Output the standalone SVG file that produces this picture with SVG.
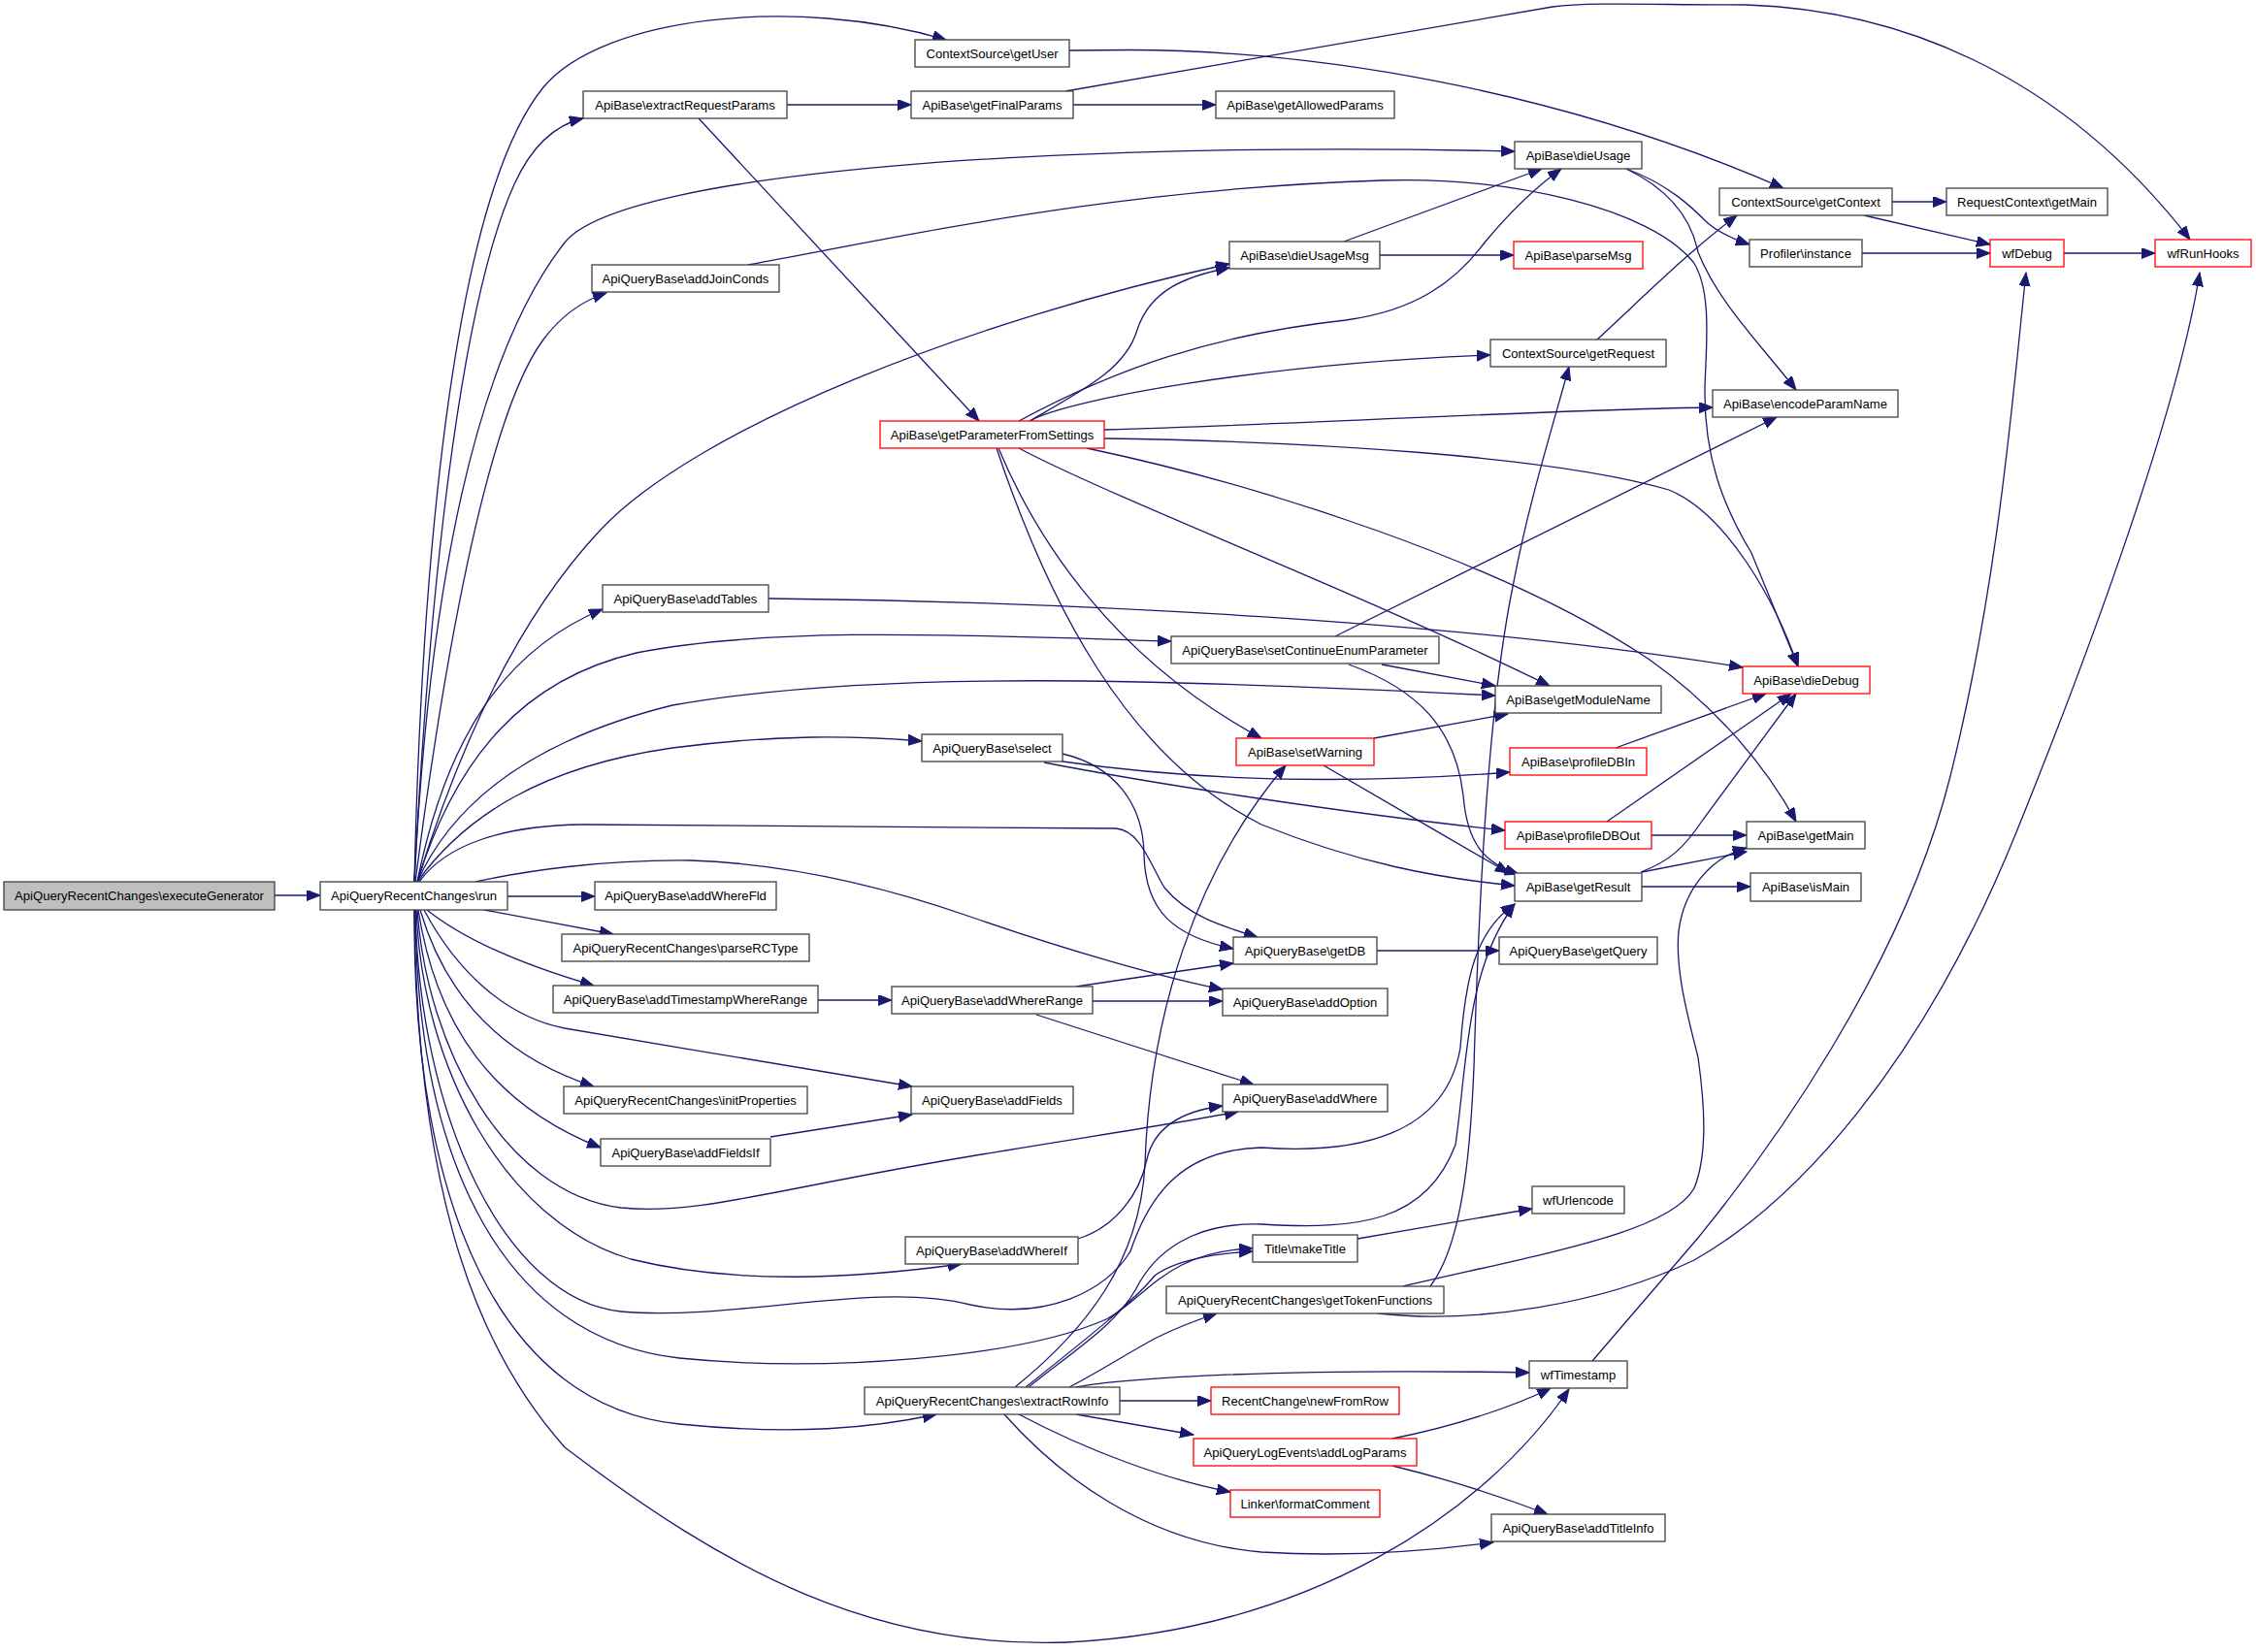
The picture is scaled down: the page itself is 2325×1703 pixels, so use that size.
<svg xmlns="http://www.w3.org/2000/svg" width="2325" height="1703" viewBox="0 0 2325 1703">
<defs>
<style>
.n rect{fill:#fff;stroke:#404040;stroke-width:1.3}
.r rect{fill:#fff;stroke:#ff0000;stroke-width:1.3}
.g rect{fill:#bfbfbf;stroke:#404040;stroke-width:1.3}
text{font-family:"Liberation Sans",Arial,Helvetica,sans-serif;font-size:13.1px;text-anchor:middle;fill:#000}
#edges path{fill:none;stroke:#191970;stroke-width:1.3;marker-end:url(#a)}
</style>
<marker id="a" markerUnits="userSpaceOnUse" markerWidth="15" markerHeight="12" refX="14" refY="5.5" orient="auto"><path d="M0,0 L14,5.5 L0,11 z" fill="#191970" stroke="#191970" stroke-width="1"/></marker>
</defs>
<rect x="0" y="0" width="2325" height="1703" fill="#fff"/>
<g id="edges">
<path d="M283,923 L330,923"/>
<path d="M427,909 C435,560 470,200 560,90 C620,17 820,-5 975,41"/>
<path d="M427,909 C445,560 480,300 530,190 C550,146 575,128 601,122"/>
<path d="M427,909 C440,650 480,380 582,250 C640,176 1100,145 1561,156"/>
<path d="M428,909 C455,700 500,430 560,350 C578,326 600,310 625,302"/>
<path d="M430,909 C470,780 530,640 620,545 C720,440 1000,330 1267,272"/>
<path d="M430,909 C460,760 520,670 621,628"/>
<path d="M430,909 C470,780 540,700 656,673 C800,645 1000,655 1207,661"/>
<path d="M430,909 C470,820 560,760 693,727 C900,690 1200,700 1541,717"/>
<path d="M430,909 C480,840 560,790 693,771 C800,757 880,758 950,764"/>
<path d="M432,909 C460,870 520,851 600,850 L1150,854 C1175,856 1185,890 1200,915 C1225,945 1260,955 1296,966"/>
<path d="M490,909 C540,898 620,886 712,887 C800,890 900,910 1000,945 C1100,980 1200,1008 1260,1020"/>
<path d="M523,924 L613,924"/>
<path d="M499,938 C540,946 590,955 632,963"/>
<path d="M440,938 C480,970 540,995 612,1016"/>
<path d="M437,938 C470,1000 520,1048 582,1060 C700,1080 850,1105 940,1120"/>
<path d="M433,938 C460,1030 520,1090 612,1120"/>
<path d="M431,938 C450,1060 510,1140 619,1183"/>
<path d="M430,938 C440,1080 520,1230 640,1245 C720,1253 800,1225 1000,1192 C1120,1172 1220,1157 1276,1146"/>
<path d="M429,938 C435,1100 520,1260 650,1298 C760,1325 880,1318 991,1303"/>
<path d="M428,938 C432,1150 520,1340 640,1352 C760,1362 900,1320 1000,1345 C1080,1362 1140,1330 1165,1290 C1185,1230 1220,1185 1300,1183 C1400,1190 1490,1170 1505,1080 C1510,1010 1520,960 1561,932"/>
<path d="M428,938 C430,1200 520,1380 700,1400 C850,1415 1050,1400 1140,1360 C1180,1340 1200,1290 1291,1287"/>
<path d="M427,938 C425,1250 520,1450 700,1468 C820,1480 900,1472 965,1458"/>
<path d="M427,938 C430,1250 500,1400 582,1492 C750,1620 900,1700 1100,1693 C1350,1680 1530,1560 1617,1432"/>
<path d="M811,108 L939,108"/>
<path d="M720,122 L1009,434"/>
<path d="M1106,108 L1253,108"/>
<path d="M1098,94 L1600,7 C1640,2 1700,5 1800,5 C1950,10 2120,70 2257,247"/>
<path d="M1102,52 L1164,51.5 C1350,52 1600,90 1838,194"/>
<path d="M1950,208 L2006,208"/>
<path d="M1921,222 L2051,252"/>
<path d="M1919,261 L2051,261"/>
<path d="M2127,261 L2221,261"/>
<path d="M1385,249 L1589,174"/>
<path d="M1422,263 L1560,263"/>
<path d="M1676,174 C1720,190 1745,215 1760,230 C1772,240 1785,246 1803,252"/>
<path d="M1676,174 C1730,200 1745,235 1750,260 C1770,310 1810,350 1851,402"/>
<path d="M771,273 C950,240 1150,195 1424,186 C1560,182 1700,215 1745,270 C1765,300 1758,360 1757,400 C1756,470 1775,520 1805,570 L1853,687"/>
<path d="M1646,350 C1700,300 1740,260 1790,222"/>
<path d="M1061,434 C1120,400 1160,380 1172,340 C1185,300 1220,285 1267,276"/>
<path d="M1050,434 C1150,380 1250,345 1387,330 C1460,320 1500,290 1530,250 C1555,220 1580,195 1609,174"/>
<path d="M1061,434 C1100,412 1300,375 1536,366"/>
<path d="M1138,443 C1400,435 1600,422 1765,420"/>
<path d="M1138,452 C1350,455 1600,470 1720,505 C1780,530 1830,620 1853,687"/>
<path d="M1120,462 C1300,500 1550,580 1700,680 C1770,730 1820,790 1851,847"/>
<path d="M1050,462 C1150,515 1400,610 1597,707"/>
<path d="M1029,462 C1070,560 1150,680 1300,761"/>
<path d="M1027,462 C1080,620 1160,780 1300,850 C1400,890 1480,905 1561,913"/>
<path d="M1376,656 L1831,430"/>
<path d="M1424,685 L1541,707"/>
<path d="M1390,685 C1460,710 1500,750 1508,820 C1512,870 1530,890 1565,901"/>
<path d="M1416,761 L1554,736"/>
<path d="M1364,789 C1420,822 1500,868 1555,900"/>
<path d="M1095,785 C1200,800 1350,812 1556,796"/>
<path d="M1076,786 C1200,810 1400,840 1551,856"/>
<path d="M1095,777 C1150,790 1178,830 1179,880 C1180,940 1210,965 1271,978"/>
<path d="M1109,1017 L1271,993"/>
<path d="M1126,1032 L1260,1032"/>
<path d="M1068,1046 L1292,1118"/>
<path d="M843,1031 L919,1031"/>
<path d="M794,1172 L940,1149"/>
<path d="M1111,1277 C1150,1265 1175,1230 1182,1195 C1190,1160 1220,1145 1260,1140"/>
<path d="M1419,980 L1545,980"/>
<path d="M1692,899 L1800,878"/>
<path d="M1692,914 L1804,914"/>
<path d="M1691,899 C1720,888 1735,875 1755,845 L1851,715"/>
<path d="M1702,861 L1800,861"/>
<path d="M1656,847 L1846,715"/>
<path d="M1665,771 L1820,715"/>
<path d="M792,617 C1100,620 1500,640 1796,688"/>
<path d="M1474,1326 C1505,1285 1515,1200 1519,1100 C1525,900 1535,720 1560,600 C1575,520 1600,440 1617,378"/>
<path d="M1446,1326 C1600,1290 1720,1270 1746,1225 C1760,1190 1757,1140 1750,1090 C1740,1050 1726,1000 1730,960 C1735,920 1760,885 1800,874"/>
<path d="M1420,1354 C1520,1365 1650,1345 1746,1299 C1850,1240 1980,1100 2078,858 C2158,660 2245,420 2267,281"/>
<path d="M1641,1403 L1750,1276 C1820,1190 1960,1000 2010,800 C2060,600 2075,400 2088,281"/>
<path d="M1399,1277 L1579,1246"/>
<path d="M1435,1483 C1500,1470 1560,1450 1598,1431"/>
<path d="M1435,1511 C1480,1522 1540,1540 1595,1561"/>
<path d="M1154,1444 L1248,1444"/>
<path d="M1109,1458 L1230,1479"/>
<path d="M1050,1458 C1120,1495 1200,1525 1268,1538"/>
<path d="M1035,1458 C1090,1520 1180,1590 1300,1600 C1400,1606 1480,1598 1539,1590"/>
<path d="M1109,1430 C1150,1422 1300,1410 1576,1415"/>
<path d="M1102,1430 C1140,1410 1170,1390 1194,1378 C1210,1370 1230,1362 1254,1354"/>
<path d="M1057,1430 C1120,1380 1170,1340 1190,1315 C1210,1300 1250,1292 1291,1290"/>
<path d="M1046,1430 C1120,1370 1175,1300 1180,1200 C1185,1050 1230,900 1325,789"/>
<path d="M1060,1430 C1110,1390 1150,1365 1170,1330 C1190,1290 1230,1260 1300,1262 C1400,1268 1470,1260 1500,1180 C1512,1100 1510,1000 1561,932"/>
</g>
<g id="n1" class="g"><rect x="4" y="909" width="279" height="29"/><text x="143.5" y="928">ApiQueryRecentChanges\executeGenerator</text></g>
<g id="n2" class="n"><rect x="330" y="909" width="193" height="29"/><text x="426.5" y="928">ApiQueryRecentChanges\run</text></g>
<g id="n3" class="n"><rect x="943" y="41" width="159" height="28"/><text x="1022.5" y="60">ContextSource\getUser</text></g>
<g id="n4" class="n"><rect x="601" y="94" width="210" height="28"/><text x="706" y="113">ApiBase\extractRequestParams</text></g>
<g id="n5" class="n"><rect x="939" y="94" width="167" height="28"/><text x="1022.5" y="113">ApiBase\getFinalParams</text></g>
<g id="n6" class="n"><rect x="1253" y="94" width="184" height="28"/><text x="1345" y="113">ApiBase\getAllowedParams</text></g>
<g id="n7" class="n"><rect x="1561" y="146" width="131" height="28"/><text x="1626.5" y="165">ApiBase\dieUsage</text></g>
<g id="n8" class="n"><rect x="610" y="273" width="193" height="28"/><text x="706.5" y="292">ApiQueryBase\addJoinConds</text></g>
<g id="n9" class="n"><rect x="1267" y="249" width="155" height="28"/><text x="1344.5" y="268">ApiBase\dieUsageMsg</text></g>
<g id="n10" class="r"><rect x="1560" y="249" width="133" height="28"/><text x="1626.5" y="268">ApiBase\parseMsg</text></g>
<g id="n11" class="n"><rect x="1772" y="194" width="178" height="28"/><text x="1861" y="213">ContextSource\getContext</text></g>
<g id="n12" class="n"><rect x="2006" y="194" width="166" height="28"/><text x="2089" y="213">RequestContext\getMain</text></g>
<g id="n13" class="n"><rect x="1803" y="247" width="116" height="28"/><text x="1861" y="266">Profiler\instance</text></g>
<g id="n14" class="r"><rect x="2051" y="247" width="76" height="28"/><text x="2089" y="266">wfDebug</text></g>
<g id="n15" class="r"><rect x="2221" y="247" width="99" height="28"/><text x="2270.5" y="266">wfRunHooks</text></g>
<g id="n16" class="n"><rect x="1536" y="350" width="181" height="28"/><text x="1626.5" y="369">ContextSource\getRequest</text></g>
<g id="n17" class="n"><rect x="1765" y="402" width="191" height="28"/><text x="1860.5" y="421">ApiBase\encodeParamName</text></g>
<g id="n18" class="r"><rect x="907" y="434" width="231" height="28"/><text x="1022.5" y="453">ApiBase\getParameterFromSettings</text></g>
<g id="n19" class="n"><rect x="621" y="603" width="171" height="28"/><text x="706.5" y="622">ApiQueryBase\addTables</text></g>
<g id="n20" class="n"><rect x="1207" y="656" width="276" height="28"/><text x="1345" y="675">ApiQueryBase\setContinueEnumParameter</text></g>
<g id="n21" class="n"><rect x="1541" y="707" width="171" height="28"/><text x="1626.5" y="726">ApiBase\getModuleName</text></g>
<g id="n22" class="r"><rect x="1796" y="687" width="131" height="28"/><text x="1861.5" y="706">ApiBase\dieDebug</text></g>
<g id="n23" class="n"><rect x="950" y="757" width="145" height="28"/><text x="1022.5" y="776">ApiQueryBase\select</text></g>
<g id="n24" class="r"><rect x="1274" y="761" width="142" height="28"/><text x="1345" y="780">ApiBase\setWarning</text></g>
<g id="n25" class="r"><rect x="1556" y="771" width="141" height="28"/><text x="1626.5" y="790">ApiBase\profileDBIn</text></g>
<g id="n26" class="r"><rect x="1551" y="847" width="151" height="28"/><text x="1626.5" y="866">ApiBase\profileDBOut</text></g>
<g id="n27" class="n"><rect x="1800" y="847" width="122" height="28"/><text x="1861" y="866">ApiBase\getMain</text></g>
<g id="n28" class="n"><rect x="1561" y="900" width="131" height="29"/><text x="1626.5" y="919">ApiBase\getResult</text></g>
<g id="n29" class="n"><rect x="1804" y="900" width="114" height="29"/><text x="1861" y="919">ApiBase\isMain</text></g>
<g id="n30" class="n"><rect x="613" y="909" width="187" height="29"/><text x="706.5" y="928">ApiQueryBase\addWhereFld</text></g>
<g id="n31" class="n"><rect x="579" y="963" width="255" height="28"/><text x="706.5" y="982">ApiQueryRecentChanges\parseRCType</text></g>
<g id="n32" class="n"><rect x="1271" y="966" width="148" height="28"/><text x="1345" y="985">ApiQueryBase\getDB</text></g>
<g id="n33" class="n"><rect x="1545" y="966" width="163" height="28"/><text x="1626.5" y="985">ApiQueryBase\getQuery</text></g>
<g id="n34" class="n"><rect x="570" y="1016" width="273" height="28"/><text x="706.5" y="1035">ApiQueryBase\addTimestampWhereRange</text></g>
<g id="n35" class="n"><rect x="919" y="1017" width="207" height="28"/><text x="1022.5" y="1036">ApiQueryBase\addWhereRange</text></g>
<g id="n36" class="n"><rect x="1260" y="1019" width="170" height="28"/><text x="1345" y="1038">ApiQueryBase\addOption</text></g>
<g id="n37" class="n"><rect x="581" y="1120" width="251" height="28"/><text x="706.5" y="1139">ApiQueryRecentChanges\initProperties</text></g>
<g id="n38" class="n"><rect x="939" y="1120" width="167" height="28"/><text x="1022.5" y="1139">ApiQueryBase\addFields</text></g>
<g id="n39" class="n"><rect x="1260" y="1118" width="170" height="28"/><text x="1345" y="1137">ApiQueryBase\addWhere</text></g>
<g id="n40" class="n"><rect x="619" y="1174" width="175" height="28"/><text x="706.5" y="1193">ApiQueryBase\addFieldsIf</text></g>
<g id="n41" class="n"><rect x="1579" y="1223" width="95" height="28"/><text x="1626.5" y="1242">wfUrlencode</text></g>
<g id="n42" class="n"><rect x="933" y="1275" width="178" height="28"/><text x="1022" y="1294">ApiQueryBase\addWhereIf</text></g>
<g id="n43" class="n"><rect x="1291" y="1273" width="108" height="28"/><text x="1345" y="1292">Title\makeTitle</text></g>
<g id="n44" class="n"><rect x="1202" y="1326" width="286" height="28"/><text x="1345" y="1345">ApiQueryRecentChanges\getTokenFunctions</text></g>
<g id="n45" class="n"><rect x="1576" y="1403" width="101" height="28"/><text x="1626.5" y="1422">wfTimestamp</text></g>
<g id="n46" class="n"><rect x="891" y="1430" width="263" height="28"/><text x="1022.5" y="1449">ApiQueryRecentChanges\extractRowInfo</text></g>
<g id="n47" class="r"><rect x="1248" y="1430" width="194" height="28"/><text x="1345" y="1449">RecentChange\newFromRow</text></g>
<g id="n48" class="r"><rect x="1230" y="1483" width="230" height="28"/><text x="1345" y="1502">ApiQueryLogEvents\addLogParams</text></g>
<g id="n49" class="r"><rect x="1268" y="1536" width="154" height="28"/><text x="1345" y="1555">Linker\formatComment</text></g>
<g id="n50" class="n"><rect x="1537" y="1561" width="179" height="28"/><text x="1626.5" y="1580">ApiQueryBase\addTitleInfo</text></g>
</svg>
